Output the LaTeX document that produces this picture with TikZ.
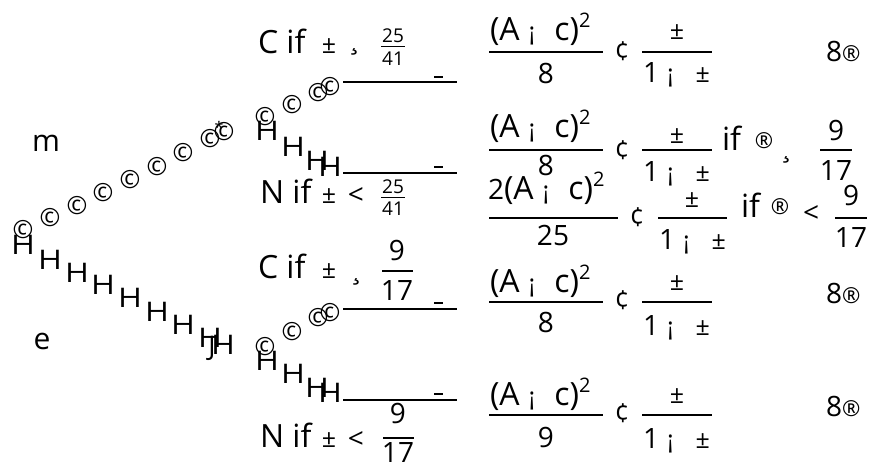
\documentclass[tikz,border=0pt]{standalone}
\usepackage{fontspec}
\setmainfont{Open Sans}
\newcommand\lf{\fontsize{32}{36}\selectfont}
\newcommand\mi{{\fontsize{25}{27}\selectfont ¡}}
\newcommand\pmx{{\fontsize{25}{27}\selectfont ±}}
\newcommand\sq{\raisebox{13pt}{\fontsize{20}{22}\selectfont 2}}
\newcommand\AC{{\lf (A}\hspace{9pt}\mi\hspace{19pt}{\lf c)}\sq}
\newcommand\OMD{1\hspace{8pt}\mi\hspace{22pt}\pmx}
\newcommand\wideH{\scalebox{1.2}[1]{H}}
\begin{document}
\begin{tikzpicture}[x=1pt,y=-1pt,
  every node/.style={inner sep=0pt,outer sep=0pt},
  big/.style={font=\fontsize{28}{32}\selectfont},
  let/.style={font=\lf},
  small/.style={font=\fontsize{19}{22}\selectfont},
  pmsym/.style={font=\fontsize{25}{27}\selectfont},
  cent/.style={font=\fontsize{26}{28}\selectfont},
  regs/.style={font=\fontsize{22}{24}\selectfont},
  hglyph/.style={font=\fontsize{27}{30}\selectfont},
  cglyph/.style={font=\fontsize{25}{28}\selectfont},
  bar/.style={line width=2pt},
  fbar/.style={line width=1.8pt},
  tick/.style={line width=1.6pt},
]
\useasboundingbox (0,0) rectangle (871,466);
% player labels
\node[font=\fontsize{30}{32}\selectfont] (m) at (46,143) {m};
\node[font=\fontsize{30}{32}\selectfont] (e) at (42,341) {e};
% root chains
\foreach \x/\y [count=\i] in {23/230,50/218,77/206,103/193,130/180,157/167,183/153,210/139,224/132}
  \node[cglyph] (rc\i) at (\x,\y) {©};
\node[font=\fontsize{16}{18}\selectfont] (star) at (219,127) {*};
\foreach \x/\y [count=\i] in {23/245,50/260,77/273,103/285,130/298,157/312,183/325,210/338,223/345}
  \node[hglyph] (rh\i) at (\x,\y) {\wideH};
\node[hglyph] (rj) at (212,348) {J};
% upper node branches
\foreach \x/\y [count=\i] in {265/117,292/105,318/93,330/87}
  \node[cglyph] (uc\i) at (\x,\y) {©};
\foreach \x/\y [count=\i] in {267/131,293/147,317/161,330/167}
  \node[hglyph] (uh\i) at (\x,\y) {\wideH};
\coordinate (ua1) at (343,82); \coordinate (ua2) at (457,82);
\coordinate (ub1) at (343,173); \coordinate (ub2) at (457,173);
\draw[bar] (ua1) -- (ua2);
\draw[bar] (ub1) -- (ub2);
\draw[tick] (434,77) -- (443,77);
\draw[tick] (434,167) -- (443,167);
% lower node branches
\foreach \x/\y [count=\i] in {265/347,292/332,318/318,330/313}
  \node[cglyph] (lc\i) at (\x,\y) {©};
\foreach \x/\y [count=\i] in {267/361,293/374,317/388,330/393}
  \node[hglyph] (lh\i) at (\x,\y) {\wideH};
\coordinate (la1) at (343,309); \coordinate (la2) at (457,309);
\coordinate (lb1) at (343,400); \coordinate (lb2) at (457,400);
\draw[bar] (la1) -- (la2);
\draw[bar] (lb1) -- (lb2);
\draw[tick] (434,303) -- (443,303);
\draw[tick] (434,394) -- (443,394);
% action labels
\node[let,anchor=base west] (t1) at (258,53) {C if};
\node[pmsym] (t1p) at (329,46) {±};
\node[big] (t1g) at (354,52) {¸};
\node[small,anchor=base] (t1n) at (393,42) {25};
\draw[line width=1pt] (381,46) -- (405,46);
\node[small,anchor=base] (t1d) at (393,65) {41};

\node[let,anchor=base west] (t2) at (260,203) {N if};
\node[pmsym] (t2p) at (329,196) {±};
\node[big] (t2l) at (356,196) {<};
\node[small,anchor=base] (t2n) at (393,193) {25};
\draw[line width=1pt] (381,197) -- (405,197);
\node[small,anchor=base] (t2d) at (393,215) {41};

\node[let,anchor=base west] (t3) at (258,278) {C if};
\node[pmsym] (t3p) at (329,271) {±};
\node[big] (t3g) at (356,282) {¸};
\node[big,anchor=base] (t3n) at (397,260) {9};
\draw[fbar] (382,271) -- (413,271);
\node[big,anchor=base] (t3d) at (397,300) {17};

\node[let,anchor=base west] (t4) at (260,447) {N if};
\node[pmsym] (t4p) at (329,440) {±};
\node[big] (t4l) at (356,440) {<};
\node[big,anchor=base] (t4n) at (398,423) {9};
\draw[fbar] (383,438) -- (414,438);
\node[big,anchor=base] (t4d) at (398,462) {17};

% payoff rows
% row 1
\node[big,anchor=base west] (p1n) at (490,40) {\AC};
\draw[fbar] (489,52) -- (603,52);
\node[big,anchor=base] (p1d) at (546,83) {8};
\node[cent] (p1c) at (622,51) {¢};
\node[pmsym] (p1a) at (677,32) {±};
\draw[fbar] (642,52) -- (712,52);
\node[big,anchor=base west] (p1b) at (643,82) {\OMD};
\node[big,anchor=base west] (p1r) at (826,61) {8{\fontsize{22}{24}\selectfont ®}};
% row 2
\node[big,anchor=base west] (p2n) at (490,137) {\AC};
\draw[fbar] (489,150) -- (603,150);
\node[big,anchor=base] (p2d) at (546,175) {8};
\node[cent] (p2c) at (622,150) {¢};
\node[pmsym] (p2a) at (677,136) {±};
\draw[fbar] (642,150) -- (712,150);
\node[big,anchor=base west] (p2b) at (643,181) {\OMD};
\node[let,anchor=base west] (p2i) at (722,150) {if};
\node[regs] (p2r) at (764,141) {®};
\node[big] (p2g) at (786,160) {¸};
\node[big,anchor=base] (p2f) at (836,140) {9};
\draw[fbar] (820,150) -- (852,150);
\node[big,anchor=base] (p2h) at (836,180) {17};
% row 3
\node[big,anchor=base west] (p3n) at (488,199) {2\AC};
\draw[fbar] (489,218) -- (618,218);
\node[big,anchor=base] (p3d) at (553,245) {25};
\node[cent] (p3c) at (637,217) {¢};
\node[pmsym] (p3a) at (692,200) {±};
\draw[fbar] (658,218) -- (727,218);
\node[big,anchor=base west] (p3b) at (659,249) {\OMD};
\node[let,anchor=base west] (p3i) at (741,217) {if};
\node[regs] (p3r) at (780,207) {®};
\node[big] (p3l) at (811,214) {<};
\node[big,anchor=base] (p3f) at (851,205) {9};
\draw[fbar] (835,218) -- (867,218);
\node[big,anchor=base] (p3h) at (851,247) {17};
% row 4
\node[big,anchor=base west] (p4n) at (490,292) {\AC};
\draw[fbar] (489,302) -- (603,302);
\node[big,anchor=base] (p4d) at (546,332) {8};
\node[cent] (p4c) at (622,300) {¢};
\node[pmsym] (p4a) at (677,283) {±};
\draw[fbar] (642,302) -- (712,302);
\node[big,anchor=base west] (p4b) at (643,335) {\OMD};
\node[big,anchor=base west] (p4r) at (826,303) {8{\fontsize{22}{24}\selectfont ®}};
% row 5
\node[big,anchor=base west] (p5n) at (490,405) {\AC};
\draw[fbar] (489,415) -- (603,415);
\node[big,anchor=base] (p5d) at (546,447) {9};
\node[cent] (p5c) at (622,413) {¢};
\node[pmsym] (p5a) at (677,396) {±};
\draw[fbar] (642,415) -- (712,415);
\node[big,anchor=base west] (p5b) at (643,448) {\OMD};
\node[big,anchor=base west] (p5r) at (826,416) {8{\fontsize{22}{24}\selectfont ®}};
\end{tikzpicture}
\end{document}
